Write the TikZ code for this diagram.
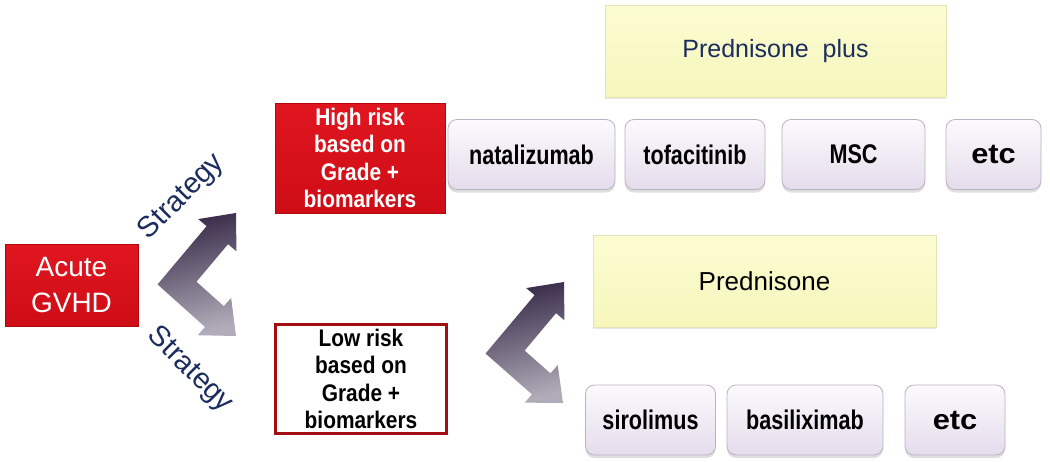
\documentclass[tikz,border=0pt]{standalone}
\usepackage{fontspec}
\setmainfont{Liberation Sans}
\newfontfamily\lilacfont[FakeStretch=0.8]{Liberation Sans}
\newfontfamily\etcfont[FakeStretch=1.1]{Liberation Sans}
\newfontfamily\riskfont[FakeStretch=0.87]{Liberation Sans}
\usetikzlibrary{calc,shadows}
\definecolor{gvred}{HTML}{CE0D16}
\definecolor{gvredlight}{HTML}{E0161F}
\definecolor{gvreddark}{HTML}{B0080E}
\definecolor{lowborder}{HTML}{A30E14}
\definecolor{lilactop}{HTML}{FBFAFD}
\definecolor{lilacbot}{HTML}{E5DCEC}
\definecolor{lilacline}{HTML}{B9B2C2}
\definecolor{yeltop}{HTML}{FCFCD2}
\definecolor{yelbot}{HTML}{F6F6BC}
\definecolor{yelline}{HTML}{E4E4B8}
\definecolor{navy}{HTML}{1B2D5E}
\definecolor{chevdark}{HTML}{372A48}
\definecolor{chevmid}{HTML}{4E4262}
\definecolor{chevlight}{HTML}{B0ABB8}
\tikzset{
  redbox/.style={draw=gvreddark, line width=0.8pt, top color=gvredlight, bottom color=gvred,
    inner sep=0pt, text=white, align=center},
  lowbox/.style={draw=lowborder, line width=2.6pt, fill=white, inner sep=0pt, align=center},
  yelbox/.style={draw=yelline, line width=0.6pt, top color=yeltop, bottom color=yelbot,
    inner sep=0pt, drop shadow={shadow xshift=0pt, shadow yshift=-2pt, opacity=0.18}},
  lilacbox/.style={draw=lilacline, line width=0.8pt, rounded corners=9pt, top color=lilactop,
    bottom color=lilacbot, inner sep=0pt,
    drop shadow={shadow xshift=0pt, shadow yshift=-3pt, opacity=0.25},
    font=\lilacfont\fontsize{27}{30}\selectfont\bfseries},
  etcbox/.style={lilacbox, font=\etcfont\fontsize{28}{30}\selectfont\bfseries},
  risktext/.style={font=\riskfont\fontsize{24}{27.5}\selectfont\bfseries},
  stratlabel/.style={text=navy, inner sep=0pt, font=\fontsize{29}{32}\selectfont},
  chevshade/.style={top color=chevdark, middle color=chevmid, bottom color=chevlight, shading angle=15}
}
\newcommand\mkchevron[4]{%
  \coordinate (#4b1) at ($(#2)!29pt!(#1)$);
  \coordinate (#4b2) at ($(#3)!29pt!(#1)$);
  \coordinate (#4o1c) at ($(#1)!14pt!90:(#2)$);
  \coordinate (#4o1b) at ($(#4b1)!14pt!90:(#2)$);
  \coordinate (#4i1c) at ($(#1)!14pt!-90:(#2)$);
  \coordinate (#4i1b) at ($(#4b1)!14pt!-90:(#2)$);
  \coordinate (#4h1o) at ($(#4b1)!25pt!90:(#2)$);
  \coordinate (#4h1i) at ($(#4b1)!25pt!-90:(#2)$);
  \coordinate (#4o2c) at ($(#1)!14pt!-90:(#3)$);
  \coordinate (#4o2b) at ($(#4b2)!14pt!-90:(#3)$);
  \coordinate (#4i2c) at ($(#1)!14pt!90:(#3)$);
  \coordinate (#4i2b) at ($(#4b2)!14pt!90:(#3)$);
  \coordinate (#4h2o) at ($(#4b2)!25pt!-90:(#3)$);
  \coordinate (#4h2i) at ($(#4b2)!25pt!90:(#3)$);
  \coordinate (#4O) at (intersection of #4o1c--#4o1b and #4o2c--#4o2b);
  \coordinate (#4I) at (intersection of #4i1c--#4i1b and #4i2c--#4i2b);
  \shade[chevshade] (#2) -- (#4h1i) -- (#4i1b) -- (#4I) -- (#4i2b) -- (#4h2i) -- (#3)
    -- (#4h2o) -- (#4o2b) -- (#4O) -- (#4o1b) -- (#4h1o) -- cycle;
}
\begin{document}
\begin{tikzpicture}[x=1pt, y=-1pt]
\useasboundingbox[fill=white] (0,0) rectangle (1050,461);

% left box
\node[redbox, minimum width=133pt, minimum height=82pt, font=\fontsize{28}{36}\selectfont]
  (acute) at (71.5,285) {Acute\\GVHD};

% risk boxes
\node[redbox, risktext, minimum width=170pt, minimum height=110pt] (high) at (360,158)
  {High risk\\based on\\Grade +\\biomarkers};
\node[lowbox, risktext, minimum width=171pt, minimum height=109pt] (low) at (361,379)
  {Low risk\\based on\\Grade +\\biomarkers};

% chevron 1
\coordinate (c1) at (177,283);
\coordinate (c1t) at (236,213);
\coordinate (c1b) at (236,336);
\mkchevron{c1}{c1t}{c1b}{ka}

\node[stratlabel, rotate=45] (s1) at (182,197) {Strategy};
\node[stratlabel, rotate=-45] (s2) at (190,370) {Strategy};

% chevron 2
\coordinate (c2) at (505,352);
\coordinate (c2t) at (564,282);
\coordinate (c2b) at (563,403);
\mkchevron{c2}{c2t}{c2b}{kb}

% yellow boxes
\node[yelbox, minimum width=341pt, minimum height=92pt, text=navy,
  font=\fontsize{25}{30}\selectfont] (pplus) at (775.5,51) {Prednisone\ \ plus};
\node[yelbox, minimum width=343pt, minimum height=92pt, text=black,
  font=\fontsize{26}{30}\selectfont] (pred) at (764.5,281) {Prednisone};

% upper lilac boxes
\node[lilacbox, minimum width=167pt, minimum height=70pt] (nat) at (531.5,154.5) {natalizumab};
\node[lilacbox, minimum width=140pt, minimum height=70pt] (tof) at (695,154.5) {tofacitinib};
\node[lilacbox, minimum width=143pt, minimum height=70pt] (msc) at (853.5,154.5) {MSC};
\node[etcbox, minimum width=95pt, minimum height=70pt] (etc1) at (993.5,154.5) {etc};

% lower lilac boxes
\node[lilacbox, minimum width=130pt, minimum height=70pt] (siro) at (650.5,420) {sirolimus};
\node[lilacbox, minimum width=156pt, minimum height=70pt] (basi) at (805,420) {basiliximab};
\node[etcbox, minimum width=100pt, minimum height=70pt] (etc2) at (955,420) {etc};
\end{tikzpicture}
\end{document}
